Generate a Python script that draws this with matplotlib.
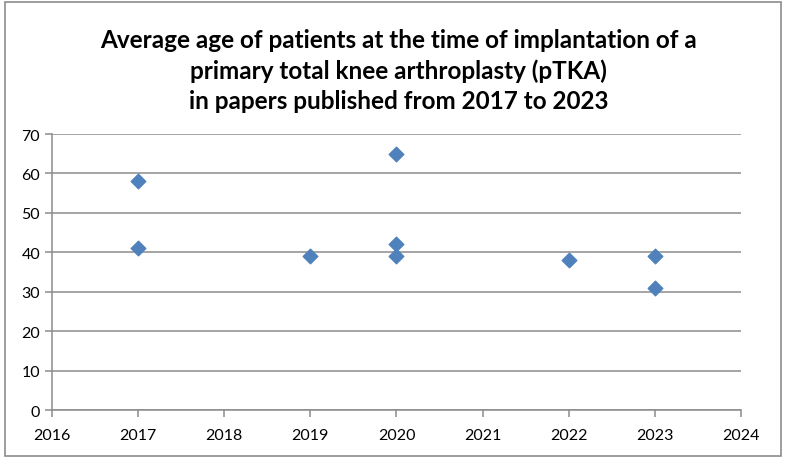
import matplotlib.pyplot as plt
from matplotlib.patches import Rectangle

# Data
years = [2017, 2017, 2019, 2020, 2020, 2020, 2022, 2023, 2023]
ages = [58, 41, 39, 65, 42, 39, 38, 39, 31]
x_ticks = [2016, 2017, 2018, 2019, 2020, 2021, 2022, 2023, 2024]
y_ticks = [0, 10, 20, 30, 40, 50, 60, 70]
title = ("Average age of patients at the time of implantation of a\n"
         "primary total knee arthroplasty (pTKA)\n"
         "in papers published from 2017 to 2023")

plt.rcParams['font.family'] = ['Lato', 'DejaVu Sans']

fig = plt.figure(figsize=(7.86, 4.6), dpi=100)
ax = fig.add_axes([0.0662, 0.1065, 0.8765, 0.6])

# chart border
fig.patches.append(Rectangle((0.006, 0.006), 0.988, 0.988, transform=fig.transFigure,
                             fill=False, edgecolor='#8c8c8c', linewidth=1.2))

ax.scatter(years, ages, marker='D', s=55, color='#4F81BD', zorder=3)

ax.set_xlim(2016, 2024)
ax.set_ylim(0, 70)
ax.set_xticks(x_ticks)
ax.set_yticks(y_ticks)
ax.yaxis.grid(True, color='#8c8c8c', linewidth=1.1)
ax.set_axisbelow(True)

for s in ['top', 'right']:
    ax.spines[s].set_visible(False)
for s in ['left', 'bottom']:
    ax.spines[s].set_color('#8c8c8c')
    ax.spines[s].set_linewidth(1.1)
ax.tick_params(colors='#8c8c8c', labelcolor='black', labelsize=11.5, length=5, width=1.1)
ax.tick_params(axis='x', pad=8)

fig.text(0.507, 0.937, title, ha='center', va='top', fontsize=17.5, fontweight='bold',
         linespacing=1.38)

fig.savefig('out.png', dpi=100)
